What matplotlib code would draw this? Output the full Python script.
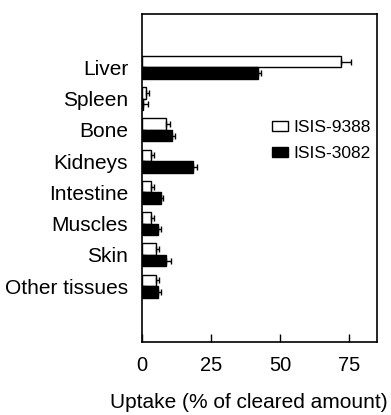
import matplotlib.pyplot as plt
import numpy as np

plt.rcParams["font.family"] = ["Liberation Sans", "DejaVu Sans"]

tissues = ["Liver", "Spleen", "Bone", "Kidneys", "Intestine", "Muscles", "Skin", "Other tissues"]
isis_9388 = [72.0, 1.3, 8.7, 3.1, 3.1, 3.1, 5.1, 5.1]
isis_9388_err = [3.6, 1.2, 1.4, 1.2, 1.2, 1.2, 1.2, 1.2]
isis_3082 = [42.1, 0.5, 10.7, 18.4, 6.9, 5.9, 8.7, 5.9]
isis_3082_err = [1.0, 1.5, 1.3, 1.4, 0.8, 1.0, 1.7, 1.0]

y = np.arange(len(tissues))
h = 0.37

fig = plt.figure(figsize=(3.91, 4.15), dpi=100)
ax = fig.add_axes([0.3632, 0.1759, 0.601, 0.7904])

err_kw = dict(ecolor="black", elinewidth=1, capsize=2.2, capthick=1)
ax.barh(y - h / 2, isis_9388, height=h, color="white", edgecolor="black", linewidth=1,
        xerr=[np.zeros(len(y)), isis_9388_err], error_kw=err_kw, label="ISIS-9388")
ax.barh(y + h / 2, isis_3082, height=h, color="black", edgecolor="black", linewidth=1,
        xerr=[np.zeros(len(y)), isis_3082_err], error_kw=err_kw, label="ISIS-3082")

ax.set_xlim(0, 85)
ax.set_ylim(8.79, -1.71)
ax.set_xticks([0, 25, 50, 75])
ax.set_yticks(y)
ax.set_yticklabels(tissues, fontsize=15)
ax.tick_params(axis="x", direction="in", length=6, width=1, labelsize=14.5, pad=10)
ax.tick_params(axis="y", direction="in", length=2, width=1, pad=10)
for s in ax.spines.values():
    s.set_linewidth(1.2)

ax.set_xlabel("Uptake (% of cleared amount)", fontsize=15)
ax.xaxis.set_label_coords(0.455, -0.155)

ax.legend(loc="upper left", bbox_to_anchor=(0.695, 0.71), bbox_transform=fig.transFigure,
          frameon=False, fontsize=12.5, handlelength=0.95, handleheight=0.5,
          handletextpad=0.3, labelspacing=0.6, borderpad=0, borderaxespad=0)

fig.savefig("out.png", dpi=100)
